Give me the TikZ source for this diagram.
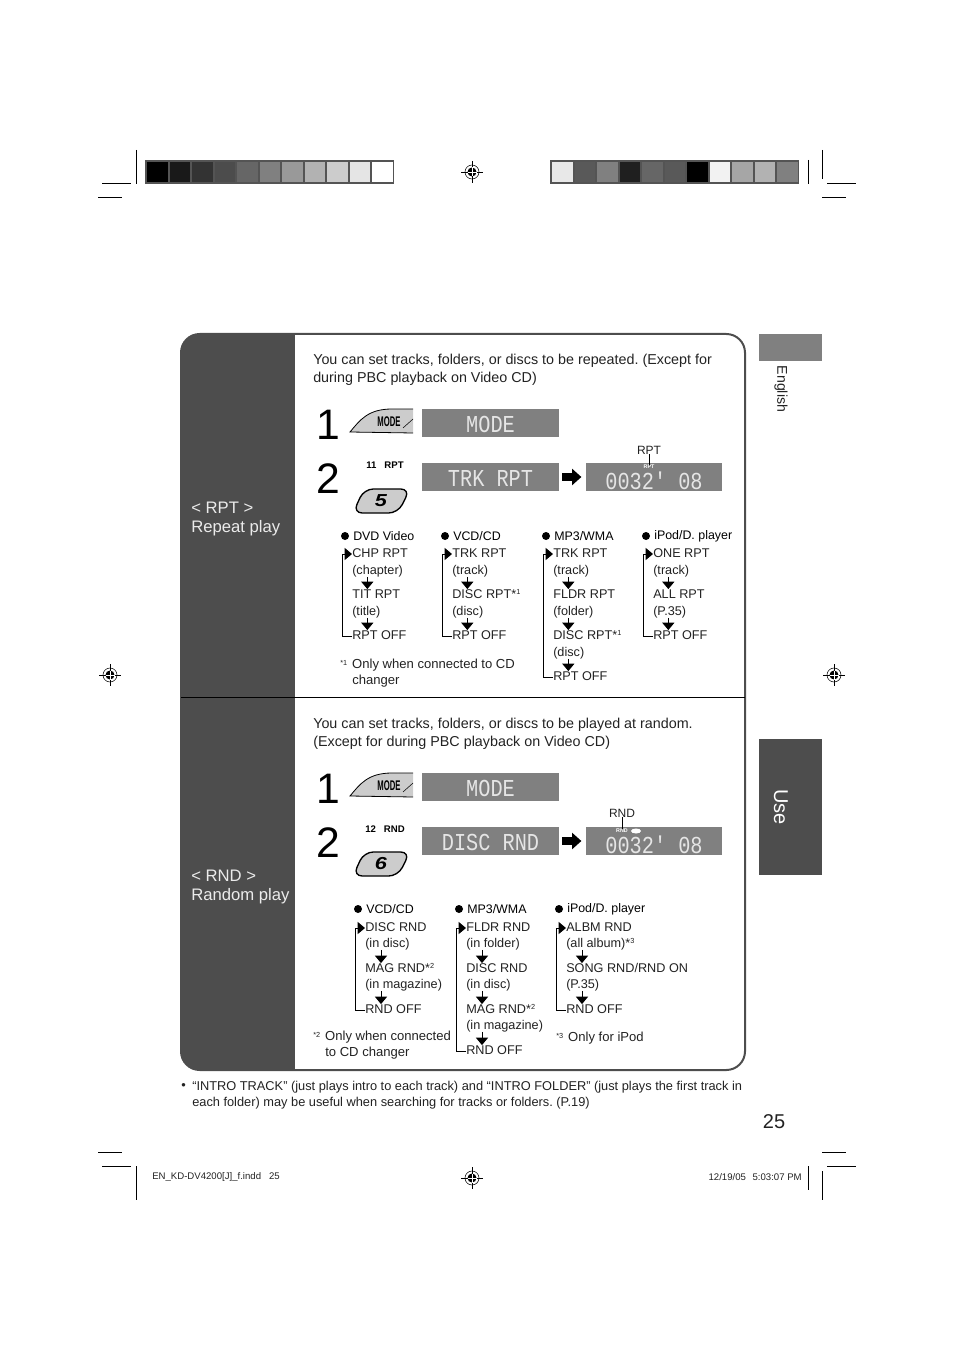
\documentclass[tikz,border=0pt]{standalone}
\usepackage{fontspec}
\setmainfont{Liberation Sans}
\newfontfamily\lcdfont{Liberation Mono}
\usetikzlibrary{arrows.meta, calc}

\definecolor{bandgray}{HTML}{4D4D4D}
\definecolor{lcdgray}{HTML}{808080}
\definecolor{keygray}{HTML}{CCCCCC}
\definecolor{inkgray}{HTML}{222222}
\newcommand{\fnsup}[1]{\raisebox{.45ex}{\fontsize{5.5}{5.5}\selectfont #1}}
\newcommand{\lcdtext}[1]{\raisebox{-6.75pt}[0pt][0pt]{\scalebox{1}[1.2]{#1}}}
\newcommand{\lcdtime}[1]{\raisebox{-9.4pt}[0pt][0pt]{\scalebox{1}[1.2]{#1}}}

\begin{document}
\frenchspacing
\begin{tikzpicture}[
    x=.75pt, y=-.75pt,
    >=Stealth,
    body/.style={anchor=west, inner sep=0pt, text=inkgray, yshift=-.75pt,
                 font=\fontsize{10.75}{13.5}\selectfont},
    listtext/.style={anchor=west, inner sep=0pt, text=inkgray, yshift=-.75pt,
                     text height=6.5pt, text depth=2pt,
                     font=\fontsize{9.5}{12}\selectfont},
    header/.style={anchor=west, inner sep=0pt, text=black,
                   font=\fontsize{9.3}{12}\selectfont},
    dot/.style={circle, fill=black, inner sep=0pt, minimum size=6pt},
    note/.style={anchor=west, inner sep=0pt, text=inkgray, align=left,
                 font=\fontsize{9.8}{12}\selectfont},
    tipline/.style={anchor=west, inner sep=0pt, text=inkgray, yshift=-.75pt,
                    font=\fontsize{9.6}{12}\selectfont},
    bandlabel/.style={anchor=west, inner sep=0pt, text=white!92!black,
                      font=\fontsize{12.5}{15}\selectfont},
    lcd/.style={fill=lcdgray, text=white!90!black, inner sep=0pt,
                minimum width=102.5pt, minimum height=21pt,
                font=\lcdfont\fontsize{15.2}{16}\selectfont},
    bignum/.style={inner sep=0pt, font=\fontsize{32}{32}\selectfont},
    keytag/.style={inner sep=0pt, font=\bfseries\fontsize{7.2}{8}\selectfont},
    flowarrow/.style={-{Triangle[width=9pt,length=5.5pt]}, line width=.75pt},
    looparrow/.style={-{Triangle[width=9pt,length=5.5pt]}, line width=.75pt},
    goarrow/.style={-{Triangle[width=12pt,length=7pt]}, line width=6pt},
    crop/.style={line width=.75pt, black}
  ]
  \useasboundingbox (0,0) rectangle (954,1351);

  % colour bars
  \fill[black!67] (145,160) rectangle (394,184);
  \foreach \i/\g in {0/100,1/90,2/80,3/70,4/60,5/50,6/40,7/30,8/20,9/10,10/0}
    \fill[black!\g] ({147+22.5*\i},162) rectangle ++(20.5,20);
  \fill[black!67] (550,160) rectangle (799,184);
  \foreach \i/\g in {0/9,1/65,2/50,3/88,4/60,5/65,6/100,7/5,8/35,9/30,10/50}
    \fill[black!\g] ({552+22.5*\i},162) rectangle ++(20.5,20);

  % crop marks
  \draw[crop] (136,150) -- (136,184) (102,184) -- (131,184) (98,198) -- (122,198);
  \draw[crop] (808,160) -- (808,184) (822,150) -- (822,179)
              (827,184) -- (856,184) (822,198) -- (846,198);
  \draw[crop] (136,1166) -- (136,1200) (102,1166) -- (131,1166) (98,1152) -- (122,1152);
  \draw[crop] (808,1166) -- (808,1190) (822,1171) -- (822,1200)
              (827,1166) -- (856,1166) (822,1152) -- (846,1152);
  \foreach \p in {(472,172),(110,675),(834,675),(472,1178)} {
    \draw[line width=.3pt] \p ++(-11,0) -- ++(22,0) \p ++(0,-11) -- ++(0,22);
    \draw[line width=.4pt] \p circle[radius=7];
    \fill \p circle[radius=4.5];
    \draw[white, line width=.5pt] \p ++(-4.5,0) -- ++(9,0) \p ++(0,-4.5) -- ++(0,9);
  }

  % main panel
  \begin{scope}
    \clip[rounded corners=14pt] (181,334) rectangle (745,1070);
    \fill[bandgray] (181,334) rectangle (295,1070);
  \end{scope}
  \draw[bandgray, line width=1.5pt, rounded corners=14pt] (181,334) rectangle (745,1070);
  \draw[black, line width=.6pt] (181,697) -- (745,697);

  % side tabs
  \fill[lcdgray] (759,334) rectangle (822,361);
  \fill[bandgray] (759,739) rectangle (822,875);
  \node[inner sep=0pt, rotate=-90, text=inkgray, font=\fontsize{10.6}{12}\selectfont]
    (english) at (781,389) {English};
  \node[inner sep=0pt, rotate=-90, text=white, font=\fontsize{15}{16}\selectfont]
    (usetab) at (781,807) {Use};
  \node[inner sep=0pt, text=inkgray, font=\fontsize{15}{16}\selectfont]
    (pageno) at (774,1122) {25};

  % band labels
  \node[bandlabel] (rptname) at (191,507.5) {< RPT >};
  \node[bandlabel] (rpttitle) at (191,528) {Repeat play};
  \node[bandlabel] (rndname) at (191,875.5) {< RND >};
  \node[bandlabel] (rndtitle) at (191,896) {Random play};

  % repeat play, steps
  \node[body] (rptintroa) at (313,360) {You can set tracks, folders, or discs to be repeated. (Except for};
  \node[body] (rptintrob) at (313,378) {during PBC playback on Video CD)};
  \node[bignum] (rptone) at (328,425) {1};
  \node[bignum] (rpttwo) at (328,479) {2};
  \node[lcd] (rptmode) at (490.5,423) {\lcdtext{MODE}};
  \node[lcd] (rptshow) at (490.5,477) {\lcdtext{TRK RPT}};
  \node[lcd] (rpttime) at (654,477) {\lcdtime{0032' 08}};
  \draw[goarrow] (rptshow.east) ++(3,0) -- ([xshift=-3pt]rpttime.west);
  \fill[keygray] (350,432) .. controls (360,420) and (368,409) .. (392,409)
    -- (413,409) -- (413,433) -- cycle;
  \draw[line width=.6pt] (413,433) -- (350,432) .. controls (360,420) and (368,409) .. (392,409) -- (413,409);
  \draw[line width=.4pt] (403,428) -- (413,419);
  \node[inner sep=0pt] (rptkey) at (389,422)
    {\scalebox{.55}[1]{\bfseries\fontsize{10.5}{11}\selectfont MODE}};
  \node[keytag] (rpttag) at (385,465) {11\hspace{6pt}RPT};
  \draw[fill=keygray, line width=1pt, rounded corners=7pt]
    (353,513) -- (364,489) -- (410,489) -- (398,513) -- cycle;
  \node[inner sep=0pt] (rptfive) at (381,501)
    {\scalebox{1.25}[1]{\bfseries\itshape\fontsize{13}{14}\selectfont 5}};
  \node[inner sep=0pt, text=inkgray, font=\fontsize{9}{10}\selectfont] (rptcall) at (649,450) {RPT};
  \node[inner sep=0pt, text=white, font=\bfseries\fontsize{4}{4}\selectfont] (rptsmall) at (649,467) {RPT};
  \draw[line width=.6pt] (rptcall.south) -- (rptsmall.north);

  % repeat play, lists
  \node[dot] (ha) at (345,536) {};
  \node[header] (hat) at (353,536) {DVD Video};
  \node[listtext] (a1) at (352,553) {CHP RPT};
  \node[listtext] (a2) at (352,570) {(chapter)};
  \node[listtext] (a3) at (352,594) {TIT RPT};
  \node[listtext] (a4) at (352,611) {(title)};
  \node[listtext] (a5) at (352,635) {RPT OFF};

  \node[dot] (hb) at (445,536) {};
  \node[header] (hbt) at (453,536) {VCD/CD};
  \node[listtext] (b1) at (452,553) {TRK RPT};
  \node[listtext] (b2) at (452,570) {(track)};
  \node[listtext] (b3) at (452,594) {DISC RPT*\fnsup{1}};
  \node[listtext] (b4) at (452,611) {(disc)};
  \node[listtext] (b5) at (452,635) {RPT OFF};

  \node[dot] (hc) at (546,536) {};
  \node[header] (hct) at (554,536) {MP3/WMA};
  \node[listtext] (c1) at (553,553) {TRK RPT};
  \node[listtext] (c2) at (553,570) {(track)};
  \node[listtext] (c3) at (553,594) {FLDR RPT};
  \node[listtext] (c4) at (553,611) {(folder)};
  \node[listtext] (c5) at (553,635) {DISC RPT*\fnsup{1}};
  \node[listtext] (c6) at (553,652) {(disc)};
  \node[listtext] (c7) at (553,676) {RPT OFF};

  \node[dot] (hd) at (646,536) {};
  \node[header] (hdt) at (654,536) {iPod/D. player};
  \node[listtext] (d1) at (653,553) {ONE RPT};
  \node[listtext] (d2) at (653,570) {(track)};
  \node[listtext] (d3) at (653,594) {ALL RPT};
  \node[listtext] (d4) at (653,611) {(P.35)};
  \node[listtext] (d5) at (653,635) {RPT OFF};

  \node[note] (rptnote) at (340,673)
    {\fnsup{*1}\hspace{1pt} Only when connected to CD\\[.2pt]\hspace{9pt}changer};

  \foreach \u/\v in {a2/a3,a4/a5,b2/b3,b4/b5,c2/c3,c4/c5,c6/c7,d2/d3,d4/d5}
    \draw[flowarrow] ([xshift=11.5pt]\u.south west) -- ([xshift=11.5pt]\v.north west);
  \foreach \u/\v in {a5/a1,b5/b1,c7/c1,d5/d1}
    \draw[looparrow] (\u.west) -- ++(-10,0) |- (\v.west);

  % random play, steps
  \node[body] (rndintroa) at (313,724) {You can set tracks, folders, or discs to be played at random.};
  \node[body] (rndintrob) at (313,742) {(Except for during PBC playback on Video CD)};
  \node[bignum] (rndone) at (328,789) {1};
  \node[bignum] (rndtwo) at (328,843) {2};
  \node[lcd] (rndmode) at (490.5,787) {\lcdtext{MODE}};
  \node[lcd] (rndshow) at (490.5,841) {\lcdtext{DISC RND}};
  \node[lcd] (rndtime) at (654,841) {\lcdtime{0032' 08}};
  \draw[goarrow] (rndshow.east) ++(3,0) -- ([xshift=-3pt]rndtime.west);
  \fill[keygray] (350,796) .. controls (360,784) and (368,773) .. (392,773)
    -- (413,773) -- (413,797) -- cycle;
  \draw[line width=.6pt] (413,797) -- (350,796) .. controls (360,784) and (368,773) .. (392,773) -- (413,773);
  \draw[line width=.4pt] (403,792) -- (413,783);
  \node[inner sep=0pt] (rndkey) at (389,786)
    {\scalebox{.55}[1]{\bfseries\fontsize{10.5}{11}\selectfont MODE}};
  \node[keytag] (rndtag) at (385,829) {12\hspace{6pt}RND};
  \draw[fill=keygray, line width=1pt, rounded corners=7pt]
    (353,876) -- (364,852) -- (410,852) -- (398,876) -- cycle;
  \node[inner sep=0pt] (rndsix) at (381,864)
    {\scalebox{1.25}[1]{\bfseries\itshape\fontsize{13}{14}\selectfont 6}};
  \node[inner sep=0pt, text=inkgray, font=\fontsize{9}{10}\selectfont] (rndcall) at (622,813) {RND};
  \node[inner sep=0pt, text=white, font=\bfseries\fontsize{4}{4}\selectfont] (rndsmall) at (622,831) {RND};
  \fill[white] (636,831) ellipse[x radius=5, y radius=2.5];
  \draw[line width=.6pt] (rndcall.south) -- (rndsmall.north);

  % random play, lists
  \node[dot] (he) at (358,909) {};
  \node[header] (het) at (366,909) {VCD/CD};
  \node[listtext] (e1) at (365,927) {DISC RND};
  \node[listtext] (e2) at (365,943) {(in disc)};
  \node[listtext] (e3) at (365,968) {MAG RND*\fnsup{2}};
  \node[listtext] (e4) at (365,984) {(in magazine)};
  \node[listtext] (e5) at (365,1009) {RND OFF};

  \node[dot] (hf) at (459,909) {};
  \node[header] (hft) at (467,909) {MP3/WMA};
  \node[listtext] (f1) at (466,927) {FLDR RND};
  \node[listtext] (f2) at (466,943) {(in folder)};
  \node[listtext] (f3) at (466,968) {DISC RND};
  \node[listtext] (f4) at (466,984) {(in disc)};
  \node[listtext] (f5) at (466,1009) {MAG RND*\fnsup{2}};
  \node[listtext] (f6) at (466,1025) {(in magazine)};
  \node[listtext] (f7) at (466,1050) {RND OFF};

  \node[dot] (hg) at (559,909) {};
  \node[header] (hgt) at (567,909) {iPod/D. player};
  \node[listtext] (g1) at (566,927) {ALBM RND};
  \node[listtext] (g2) at (566,943) {(all album)*\fnsup{3}};
  \node[listtext] (g3) at (566,968) {SONG RND/RND ON};
  \node[listtext] (g4) at (566,984) {(P.35)};
  \node[listtext] (g5) at (566,1009) {RND OFF};

  \node[note] (rndnotea) at (313,1045)
    {\fnsup{*2}\hspace{1pt} Only when connected\\[.2pt]\hspace{9pt}to CD changer};
  \node[note] (rndnoteb) at (556,1038) {\fnsup{*3}\hspace{1pt} Only for iPod};

  \foreach \u/\v in {e2/e3,e4/e5,f2/f3,f4/f5,f6/f7,g2/g3,g4/g5}
    \draw[flowarrow] ([xshift=12pt]\u.south west) -- ([xshift=12pt]\v.north west);
  \foreach \u/\v in {e5/e1,f7/f1,g5/g1}
    \draw[looparrow] (\u.west) -- ++(-10,0) |- (\v.west);

  % footer
  \node[tipline] (tipdot) at (181,1086) {•};
  \node[tipline] (tipa) at (192,1086) {“INTRO TRACK” (just plays intro to each track) and “INTRO FOLDER” (just plays the first track in};
  \node[tipline] (tipb) at (192,1102) {each folder) may be useful when searching for tracks or folders. (P.19)};
  \node[inner sep=0pt, anchor=west, text=inkgray, font=\fontsize{7.2}{8}\selectfont]
    (slugfile) at (152,1177) {EN\_KD-DV4200[J]\_f.indd\hspace{6pt}25};
  \node[inner sep=0pt, anchor=east, text=inkgray, font=\fontsize{7.2}{8}\selectfont]
    (slugdate) at (802,1177) {12/19/05\hspace{5pt}5:03:07 PM};
\end{tikzpicture}
\end{document}
